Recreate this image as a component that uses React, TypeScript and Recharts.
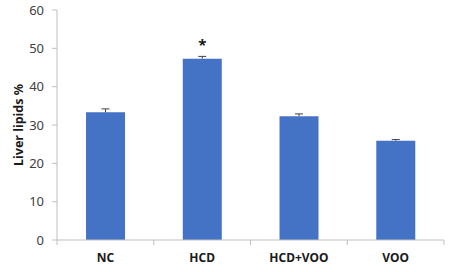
import React from 'react';
import {
    BarChart,
    Bar,
    XAxis,
    YAxis,
    LabelList
} from 'recharts';

const groups = ['NC', 'HCD', 'HCD+VOO', 'VOO'];
const liverLipids = [33.3, 47.3, 32.3, 25.9];
const sem = [0.9, 0.6, 0.6, 0.3];
const significance = ['', '*', '', ''];
const yTicks = [0, 10, 20, 30, 40, 50, 60];

const data = groups.map((g, i) => ({
    group: g,
    value: liverLipids[i],
    sem: sem[i],
    sig: significance[i],
}));

const AXIS_GREY = '#bfbfbf';
const FONT = "'Noto Sans', sans-serif";

// Excel style "plus only" error bar: stem + cap, stacked on top of the value bar
const PlusErrorBar = (props: any) => {
    const { x, y, width, height } = props;
    if (!height) return null;
    const cx = x + width / 2;
    return (
        <g stroke="#404040" strokeWidth={1}>
            <line x1={cx} y1={y} x2={cx} y2={y + height} />
            <line x1={cx - 4} y1={y} x2={cx + 4} y2={y} />
        </g>
    );
};

// category label plus the small tick marks Excel puts between categories
const CategoryTick = (props: any) => {
    const { x, y, payload, index, visibleTicksCount } = props;
    const half = payload && payload.offset ? payload.offset : 48;
    return (
        <g>
            <line x1={x - half} y1={y} x2={x - half} y2={y + 5} stroke={AXIS_GREY} />
            {index === visibleTicksCount - 1 && (
                <line x1={x + half} y1={y} x2={x + half} y2={y + 5} stroke={AXIS_GREY} />
            )}
            <text
                x={x}
                y={y}
                dy={22}
                textAnchor="middle"
                fontSize={12}
                fontWeight="bold"
                fill="#1a1a1a"
                fontFamily={FONT}
            >
                {payload.value}
            </text>
        </g>
    );
};

const App: React.FC = () => {
    return (
        <div style={{ position: 'absolute', left: 0, top: 0, width: 453, height: 272, background: '#fff' }}>
            <BarChart
                width={453}
                height={272}
                data={data}
                margin={{ top: 10, right: 9, left: 0, bottom: 0 }}
                barCategoryGap="30%"
            >
                <XAxis
                    dataKey="group"
                    height={32}
                    axisLine={{ stroke: AXIS_GREY }}
                    tickLine={false}
                    tickSize={0}
                    tickMargin={0}
                    tick={<CategoryTick />}
                    interval={0}
                />
                <YAxis
                    width={57}
                    domain={[0, 60]}
                    ticks={yTicks}
                    interval={0}
                    axisLine={{ stroke: AXIS_GREY }}
                    tickLine={{ stroke: AXIS_GREY }}
                    tickSize={5}
                    tickMargin={8}
                    tick={{ fontSize: 13, fill: '#404040', fontFamily: FONT }}
                    label={{
                        value: 'Liver lipids %',
                        angle: -90,
                        position: 'insideLeft',
                        offset: 19,
                        style: {
                            textAnchor: 'middle',
                            fontSize: 12.5,
                            fontWeight: 'bold',
                            fill: '#1a1a1a',
                            fontFamily: FONT
                        }
                    }}
                />
                <Bar dataKey="value" stackId="a" fill="#4472C4" isAnimationActive={false} />
                <Bar dataKey="sem" stackId="a" shape={<PlusErrorBar />} isAnimationActive={false}>
                    <LabelList
                        dataKey="sig"
                        position="top"
                        offset={6}
                        style={{ fontSize: 15, fontWeight: 'bold', fill: '#1a1a1a', fontFamily: FONT }}
                    />
                </Bar>
            </BarChart>
        </div>
    );
};

export default App;
